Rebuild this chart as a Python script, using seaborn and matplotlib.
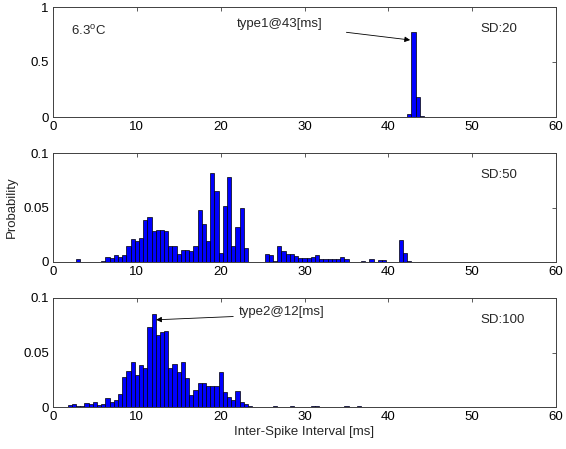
import numpy as np
import pandas as pd
import matplotlib
matplotlib.use("Agg")
import matplotlib.pyplot as plt
import seaborn as sns

# ---- data (bin centres in ms, probabilities) ----
sd20_x = [42.5, 43.0, 43.5, 44.0]
sd20_p = [0.03, 0.77, 0.18, 0.005]

sd50_x = [3.0, 6.0, 6.5, 7.0, 7.5, 8.0, 8.5, 9.0, 9.5, 10.0, 10.5, 11.0, 11.5,
          12.0, 12.5, 13.0, 13.5, 14.0, 14.5, 15.0, 15.5, 16.0, 16.5, 17.0,
          17.5, 18.0, 18.5, 19.0, 19.5, 20.0, 20.5, 21.0, 21.5, 22.0, 22.5,
          23.0, 25.5, 26.0, 26.5, 27.0, 27.5, 28.0, 28.5, 29.0, 29.5, 30.0,
          30.5, 31.0, 31.5, 32.0, 32.5, 33.0, 33.5, 34.0, 34.5, 35.0, 37.0,
          38.0, 39.0, 39.5, 41.5, 42.0, 42.5]
sd50_p = [0.0025, 0.001, 0.0046, 0.0034, 0.006, 0.005, 0.006, 0.015, 0.021,
          0.0196, 0.022, 0.0385, 0.041, 0.028, 0.029, 0.029, 0.0285, 0.015,
          0.0147, 0.0073, 0.011, 0.011, 0.0098, 0.015, 0.0477, 0.0346, 0.019,
          0.082, 0.065, 0.008, 0.051, 0.078, 0.0147, 0.032, 0.050, 0.0125,
          0.007, 0.0064, 0.0012, 0.0144, 0.0098, 0.007, 0.0073, 0.0058,
          0.0034, 0.0034, 0.004, 0.0043, 0.006, 0.0028, 0.0025, 0.0028,
          0.003, 0.0028, 0.0046, 0.0025, 0.0008, 0.0025, 0.0015, 0.0015,
          0.020, 0.008, 0.001]

sd100_x = [2.0, 2.5, 3.0, 3.5, 4.0, 4.5, 5.0, 5.5, 6.0, 6.5, 7.0, 7.5, 8.0,
           8.5, 9.0, 9.5, 10.0, 10.5, 11.0, 11.5, 12.0, 12.5, 13.0, 13.5,
           14.0, 14.5, 15.0, 15.5, 16.0, 16.5, 17.0, 17.5, 18.0, 18.5, 19.0,
           19.5, 20.0, 20.5, 21.0, 21.5, 22.0, 22.5, 23.0, 23.5, 26.5, 28.5,
           31.0, 31.5, 35.0, 36.5]
sd100_p = [0.0015, 0.0025, 0.0012, 0.0012, 0.004, 0.0028, 0.005, 0.0018,
           0.003, 0.008, 0.005, 0.0064, 0.0116, 0.0275, 0.033, 0.041, 0.029,
           0.0385, 0.036, 0.073, 0.085, 0.066, 0.069, 0.070, 0.0355, 0.039,
           0.0324, 0.041, 0.0263, 0.011, 0.0153, 0.0223, 0.0223, 0.0193,
           0.0193, 0.019, 0.0324, 0.0135, 0.0092, 0.0064, 0.0144, 0.0046,
           0.003, 0.001, 0.001, 0.001, 0.0008, 0.001, 0.0008, 0.0008]

x_ticks = [0, 10, 20, 30, 40, 50, 60]
y_ticks_top = [0, 0.5, 1]
y_ticks_low = [0, 0.05, 0.1]
y_tick_labels_top = ["0", "0.5", "1"]
y_tick_labels_low = ["0", "0.05", "0.1"]
sd_labels = ["SD:20", "SD:50", "SD:100"]

sns.set_style("white")
plt.rcParams["font.family"] = ["Liberation Sans", "DejaVu Sans"]
plt.rcParams["font.size"] = 9.5

fig = plt.figure(figsize=(5.66, 4.49), dpi=100)
W, H = 566, 449
left, right = 53 / W, 556 / W
panels_px = [(7, 117), (153, 262), (298, 407)]
axes = []
for top, bot in panels_px:
    ax = fig.add_axes([left, 1 - bot / H, right - left, (bot - top) / H])
    axes.append(ax)

datasets = [(sd20_x, sd20_p), (sd50_x, sd50_p), (sd100_x, sd100_p)]
ylims = [1, 0.1, 0.1]
for i, (ax, (xs, ps)) in enumerate(zip(axes, datasets)):
    df = pd.DataFrame({"isi": xs, "prob": ps})
    sns.histplot(data=df, x="isi", weights="prob", binwidth=0.5,
                 binrange=(-0.25, 60.25), ax=ax,
                 color=(0, 0, 1), edgecolor="black", linewidth=0.5,
                 alpha=1.0, legend=False)
    ax.set_xlim(0, 60)
    ax.set_ylim(0, ylims[i])
    ax.set_xticks(x_ticks)
    ax.set_xticklabels([str(t) for t in x_ticks])
    if i == 0:
        ax.set_yticks(y_ticks_top)
        ax.set_yticklabels(y_tick_labels_top)
    else:
        ax.set_yticks(y_ticks_low)
        ax.set_yticklabels(y_tick_labels_low)
    ax.set_xlabel("")
    ax.set_ylabel("")
    ax.tick_params(direction="in", length=3, width=0.6, top=True, right=True,
                   colors="#404040", labelcolor="black", labelsize=9.5, pad=3)
    for s in ax.spines.values():
        s.set_visible(True)
        s.set_color("#404040")
        s.set_linewidth(0.7)
    ax.text(51.0, ylims[i] * 0.80, sd_labels[i], fontsize=9.5, va="center")

axes[0].text(2.2, 0.78, "6.3$^\\mathregular{o}$C", fontsize=9.5, va="center")
axes[0].text(27.0, 0.85, "type1@43[ms]", fontsize=9.5, ha="center", va="center")
axes[0].annotate("", xy=(42.6, 0.70), xytext=(35.0, 0.77),
                 arrowprops=dict(arrowstyle="-|>", color="black", lw=0.6,
                                 mutation_scale=8, shrinkA=0, shrinkB=0))
axes[2].text(22.2, 0.087, "type2@12[ms]", fontsize=9.5, ha="left", va="center")
axes[2].annotate("", xy=(12.3, 0.080), xytext=(21.5, 0.083),
                 arrowprops=dict(arrowstyle="-|>", color="black", lw=0.6,
                                 mutation_scale=8, shrinkA=0, shrinkB=0))
axes[1].set_ylabel("Probability", fontsize=9.5, labelpad=4)
axes[2].set_xlabel("Inter-Spike Interval [ms]", fontsize=9.5, labelpad=2)

fig.savefig("out.png", dpi=100)
